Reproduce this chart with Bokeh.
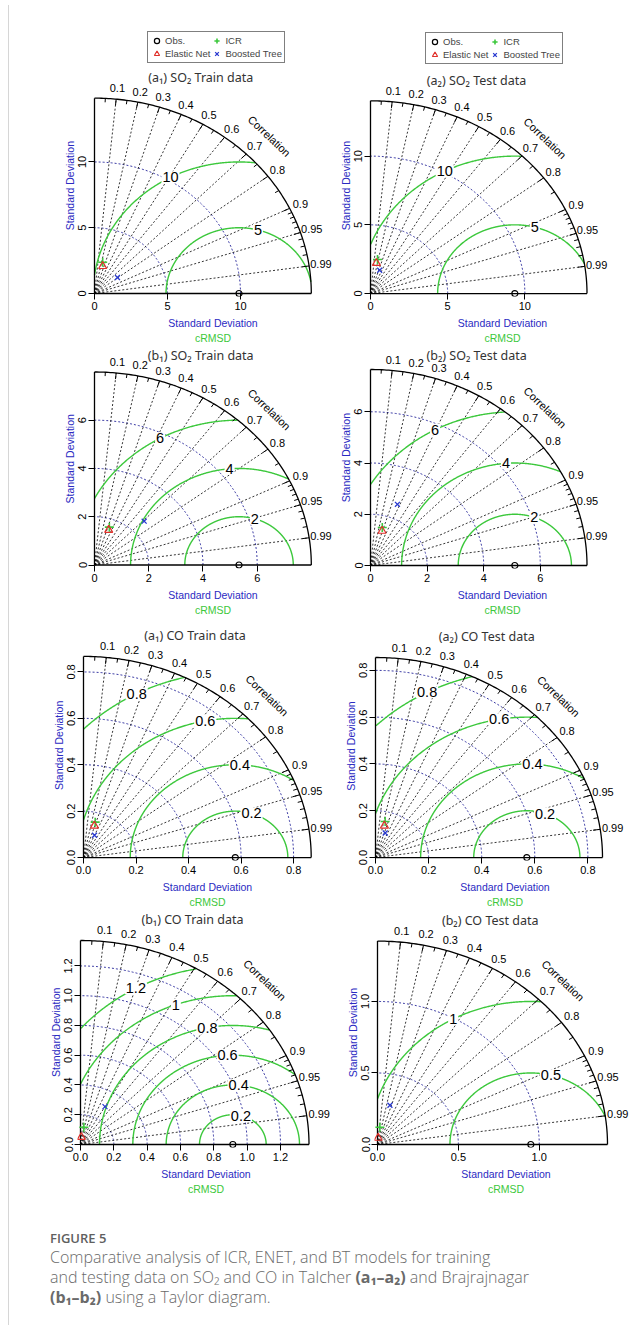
import numpy as np
from bokeh.plotting import figure
from bokeh.models import (Range1d, FixedTicker, Title, Legend, LegendItem, Div, Spacer,
                          PrintfTickFormatter, LinearAxis)
from bokeh.layouts import row, column
from bokeh.core.properties import value
from bokeh.embed import file_html
from bokeh.resources import INLINE

# ---------------- data ----------------
panel_titles = ["(a\u2081) SO\u2082 Train data", "(a\u2082) SO\u2082 Test data",
                "(b\u2081) SO\u2082 Train data", "(b\u2082) SO\u2082 Test data",
                "(a\u2081) CO Train data", "(a\u2082) CO Test data",
                "(b\u2081) CO Train data", "(b\u2082) CO Test data"]
legend_labels = ["Obs.", "Elastic Net", "ICR", "Boosted Tree"]

obs_sd = [9.9, 9.35, 5.33, 5.10, 0.578, 0.570, 0.914, 0.948]
icr_sd = [2.44, 2.52, 1.66, 1.54, 0.159, 0.158, 0.118, 0.122]
icr_corr = [0.23, 0.18, 0.33, 0.27, 0.28, 0.23, 0.17, 0.12]
enet_sd = [2.15, 2.25, 1.54, 1.41, 0.143, 0.140, 0.050, 0.046]
enet_corr = [0.26, 0.17, 0.34, 0.29, 0.29, 0.24, 0.10, 0.09]
bt_sd = [1.99, 1.80, 2.58, 2.57, 0.105, 0.111, 0.294, 0.285]
bt_corr = [0.79, 0.33, 0.71, 0.37, 0.40, 0.33, 0.50, 0.27]

sd_ticks = [[0, 5, 10], [0, 5, 10], [0, 2, 4, 6], [0, 2, 4, 6],
            [0, 0.2, 0.4, 0.6, 0.8], [0, 0.2, 0.4, 0.6, 0.8],
            [0, 0.2, 0.4, 0.6, 0.8, 1.0, 1.2], [0, 0.5, 1.0]]
sd_tick_format = ["%d", "%d", "%d", "%d", "%.1f", "%.1f", "%.1f", "%.1f"]
crmsd_levels = [[5, 10], [5, 10], [2, 4, 6], [2, 4, 6],
                [0.2, 0.4, 0.6, 0.8], [0.2, 0.4, 0.6, 0.8],
                [0.2, 0.4, 0.6, 0.8, 1.0, 1.2], [0.5, 1.0]]
corr_ticks = [0.1, 0.2, 0.3, 0.4, 0.5, 0.6, 0.7, 0.8, 0.9, 0.95, 0.99]
corr_tick_labels = ["0.1", "0.2", "0.3", "0.4", "0.5", "0.6", "0.7", "0.8", "0.9", "0.95", "0.99"]
corr_minor = [0.05, 0.15, 0.25, 0.35, 0.45, 0.55, 0.65, 0.75, 0.85,
              0.91, 0.92, 0.93, 0.94, 0.96, 0.97, 0.98]

# ---------------- style / layout ----------------
FONT = "Liberation Sans"
BLUE = "#2a2ac2"
DOT_BLUE = "#25259a"
GREEN = "#3cc83c"
RED = "#e0302a"
XBLUE = "#2a3ad0"

ROW_TOP = [8, 354, 634, 918]
ROW_BOT = [354, 634, 918, 1205]
COL_LEFT = [12, 332]
COL_W = [320, 303]
ORIGIN = [(92, 302), (368, 306), (92, 572.5), (368, 573),
          (81, 868), (373, 868), (78, 1152), (375, 1152)]
RADIUS_PX = [(216.8, 196), (216.5, 196), (216.8, 193), (216.5, 196),
             (227.7, 203.7), (227, 202.6), (228.5, 204), (230, 203.4)]
LABEL_ANGLE = [[75, 118], [75, 117], [73, 95, 119], [70, 94.5, 118],
               [72, 87.5, 101, 118], [70, 87, 100, 118],
               [76, 85, 93, 101, 110, 119], [75.6, 118.7]]
LEGEND_AT = {0: (56, 233), 1: (58, 232)}


def polar_xy(sd, c):
    sd = np.asarray(sd, float)
    c = np.asarray(c, float)
    return sd * c, sd * np.sqrt(1 - c * c)


def make_panel(i):
    ox, oy = ORIGIN[i]
    rh, rv = RADIUS_PX[i]
    rr, cc = divmod(i, 2)
    fl, fw = COL_LEFT[cc], COL_W[cc]
    ft, fbot = ROW_TOP[rr], ROW_BOT[rr]
    fh = fbot - ft
    obs = obs_sd[i]
    R = 1.5 * obs
    sx, sy = rh / R, rv / R
    mbl = int(round(ox - 3 - fl))
    mbb = int(round(fbot - (oy + 3)))
    frame_l = fl + mbl
    frame_b = fbot - mbb
    xr = Range1d((frame_l - ox) / sx, (fl + fw - ox) / sx)
    yr = Range1d(-(frame_b - oy) / sy, (oy - ft) / sy)

    p = figure(width=fw, height=fh, x_range=xr, y_range=yr, title=None,
               output_backend="svg", toolbar_location=None,
               min_border_left=mbl, min_border_right=0, min_border_top=0,
               min_border_bottom=mbb, outline_line_color=None)
    p.grid.visible = False

    ticks = sd_ticks[i]
    for ax in (p.xaxis[0], p.yaxis[0]):
        ax.ticker = FixedTicker(ticks=ticks)
        ax.formatter = PrintfTickFormatter(format=sd_tick_format[i])
        ax.axis_line_color = None
        ax.major_tick_in = 3
        ax.major_tick_out = 3
        ax.major_tick_line_color = "black"
        ax.minor_tick_line_color = None
        ax.major_label_text_font = FONT
        ax.major_label_text_font_size = "11px"
        ax.major_label_text_color = "black"
        ax.major_label_standoff = 2
    p.yaxis.major_label_orientation = "vertical"
    p.xaxis.axis_label = "Standard Deviation"
    p.xaxis.axis_label_text_color = BLUE
    p.xaxis.axis_label_text_font = FONT
    p.xaxis.axis_label_text_font_size = "10.5px"
    p.xaxis.axis_label_text_font_style = "normal"
    p.xaxis.axis_label_standoff = 4
    crm = LinearAxis(ticker=FixedTicker(ticks=[]), axis_label="cRMSD",
                     axis_label_text_color=GREEN, axis_label_text_font=FONT,
                     axis_label_text_font_size="10.5px", axis_label_text_font_style="normal",
                     axis_label_standoff=0, major_tick_out=0, major_tick_in=0,
                     minor_tick_out=0, minor_tick_in=0, major_label_standoff=0,
                     axis_line_color=None, major_label_text_font_size="1px")
    p.add_layout(crm, "below")
    off = (frame_b - oy) + 0.55 * rv - 44.6
    p.add_layout(Title(text="Standard Deviation", align="left", offset=off, text_color=BLUE,
                       text_font=FONT, text_font_size="10.5px", text_font_style="normal",
                       standoff=0), "left")

    th = np.linspace(0, np.pi / 2, 150)
    # standard deviation arcs (blue dotted)
    sd_arcs = [t for t in ticks if 0 < t < R * 0.999]
    p.multi_line([list(t * np.cos(th)) for t in sd_arcs], [list(t * np.sin(th)) for t in sd_arcs],
                 line_color=DOT_BLUE, line_dash="2 2", line_width=0.9)
    # correlation rays
    angs = np.arccos(corr_ticks)
    p.multi_line([[0, R * np.cos(a)] for a in angs], [[0, R * np.sin(a)] for a in angs],
                 line_color="black", line_dash="2 2", line_width=0.8)
    # cRMSD contours
    phi = np.linspace(0, np.pi, 600)
    cxs, cys = [], []
    for lev in crmsd_levels[i]:
        cx = obs + lev * np.cos(phi)
        cy = lev * np.sin(phi)
        m = (np.hypot(cx, cy) <= R) & (cx >= 0)
        cxs.append(list(cx[m]))
        cys.append(list(cy[m]))
    p.multi_line(cxs, cys, line_color=GREEN, line_width=1.4)

    # outer arc and axis lines
    p.line(R * np.cos(th), R * np.sin(th), line_color="black", line_width=1.3)
    p.line([0, R], [0, 0], line_color="black", line_width=1.3)
    p.line([0, 0], [0, R], line_color="black", line_width=1.3)
    # arc ticks
    tx, ty = [], []
    for c, L in [(c, 0.032) for c in corr_ticks] + [(c, 0.02) for c in corr_minor]:
        a = np.arccos(c)
        tx.append([R * np.cos(a), R * (1 - L) * np.cos(a)])
        ty.append([R * np.sin(a), R * (1 - L) * np.sin(a)])
    p.multi_line(tx, ty, line_color="black", line_width=1.0)

    # contour labels
    la = np.radians(LABEL_ANGLE[i])
    lev = np.array(crmsd_levels[i], float)
    p.text(x=obs + lev * np.cos(la), y=lev * np.sin(la),
           text=[f"{v:g}" for v in crmsd_levels[i]],
           text_font=value(FONT), text_font_size="14.5px", text_color="black",
           text_align="center", text_baseline="middle",
           background_fill_color="white", padding=1)

    # correlation labels
    p.text(x=1.055 * R * np.cos(angs), y=1.055 * R * np.sin(angs), text=corr_tick_labels,
           text_font=value(FONT), text_font_size="11px", text_color="black",
           text_align="center", text_baseline="middle")
    p.text(x=[1.14 * R * np.cos(np.pi / 4)], y=[1.14 * R * np.sin(np.pi / 4)], text=["Correlation"],
           angle=-0.76, text_font=value(FONT), text_font_size="11px", text_color="black",
           text_align="center", text_baseline="middle")

    # panel title (kept inside the frame)
    ty_page = max(oy - rv - 21, ft + 8.5)
    p.text(x=[0.49 * R], y=[(oy - ty_page) / sy], text=[panel_titles[i]],
           text_font=value("Noto Sans"), text_font_size="12.5px", text_color="#333333",
           text_align="center", text_baseline="middle")

    # markers
    r_obs = p.scatter([obs], [0], marker="circle", size=6, fill_color=None,
                      line_color="black", line_width=1.2)
    x, y = polar_xy([icr_sd[i]], [icr_corr[i]])
    r_icr = p.scatter(x, y, marker="cross", size=9, line_color=GREEN, line_width=1.6)
    x, y = polar_xy([enet_sd[i]], [enet_corr[i]])
    r_en = p.scatter(x, y, marker="triangle", size=8, fill_color=None,
                     line_color=RED, line_width=1.2)
    x, y = polar_xy([bt_sd[i]], [bt_corr[i]])
    r_bt = p.scatter(x, y, marker="x", size=7, line_color=XBLUE, line_width=1.3)

    if i in LEGEND_AT:
        rmap = {"Obs.": r_obs, "ICR": r_icr, "Elastic Net": r_en, "Boosted Tree": r_bt}
        items = [LegendItem(label=lab, renderers=[rmap[lab]]) for lab in legend_labels]
        leg = Legend(items=items, location=LEGEND_AT[i], ncols=2,
                     border_line_color="black", border_line_width=1, padding=2,
                     spacing=0, margin=0, glyph_height=13, glyph_width=13,
                     label_height=12, label_standoff=2, label_text_font=FONT,
                     label_text_font_size="9.5px", background_fill_alpha=1)
        p.add_layout(leg)
    return p


panels = [make_panel(i) for i in range(8)]

caption = Div(width=623, text=(
    '<div style="padding-top:27px;padding-left:31px;font-family:\'Open Sans\',sans-serif;color:#6a6a6a;">'
    '<div style="font-size:13px;font-weight:600;line-height:18px;color:#606060;">FIGURE 5</div>'
    '<div style="font-size:16px;font-weight:300;line-height:20px;white-space:nowrap;">'
    'Comparative analysis of ICR, ENET, and BT models for training<br>'
    'and testing data on SO\u2082 and CO in Talcher '
    '<b style="font-weight:700">(a\u2081\u2013a\u2082)</b>'
    ' and Brajrajnagar<br>'
    '<b style="font-weight:700">(b\u2081\u2013b\u2082)</b>'
    ' using a Taylor diagram.</div></div>'))

content = column(row(panels[0], panels[1]), row(panels[2], panels[3]),
                 row(panels[4], panels[5]), row(panels[6], panels[7]), caption)
edge = Div(width=1, height=1320, styles={"background-color": "#d6d6d6"})
page = row(Spacer(width=3), edge, content)

open("out.html", "w").write(file_html(page, INLINE))
